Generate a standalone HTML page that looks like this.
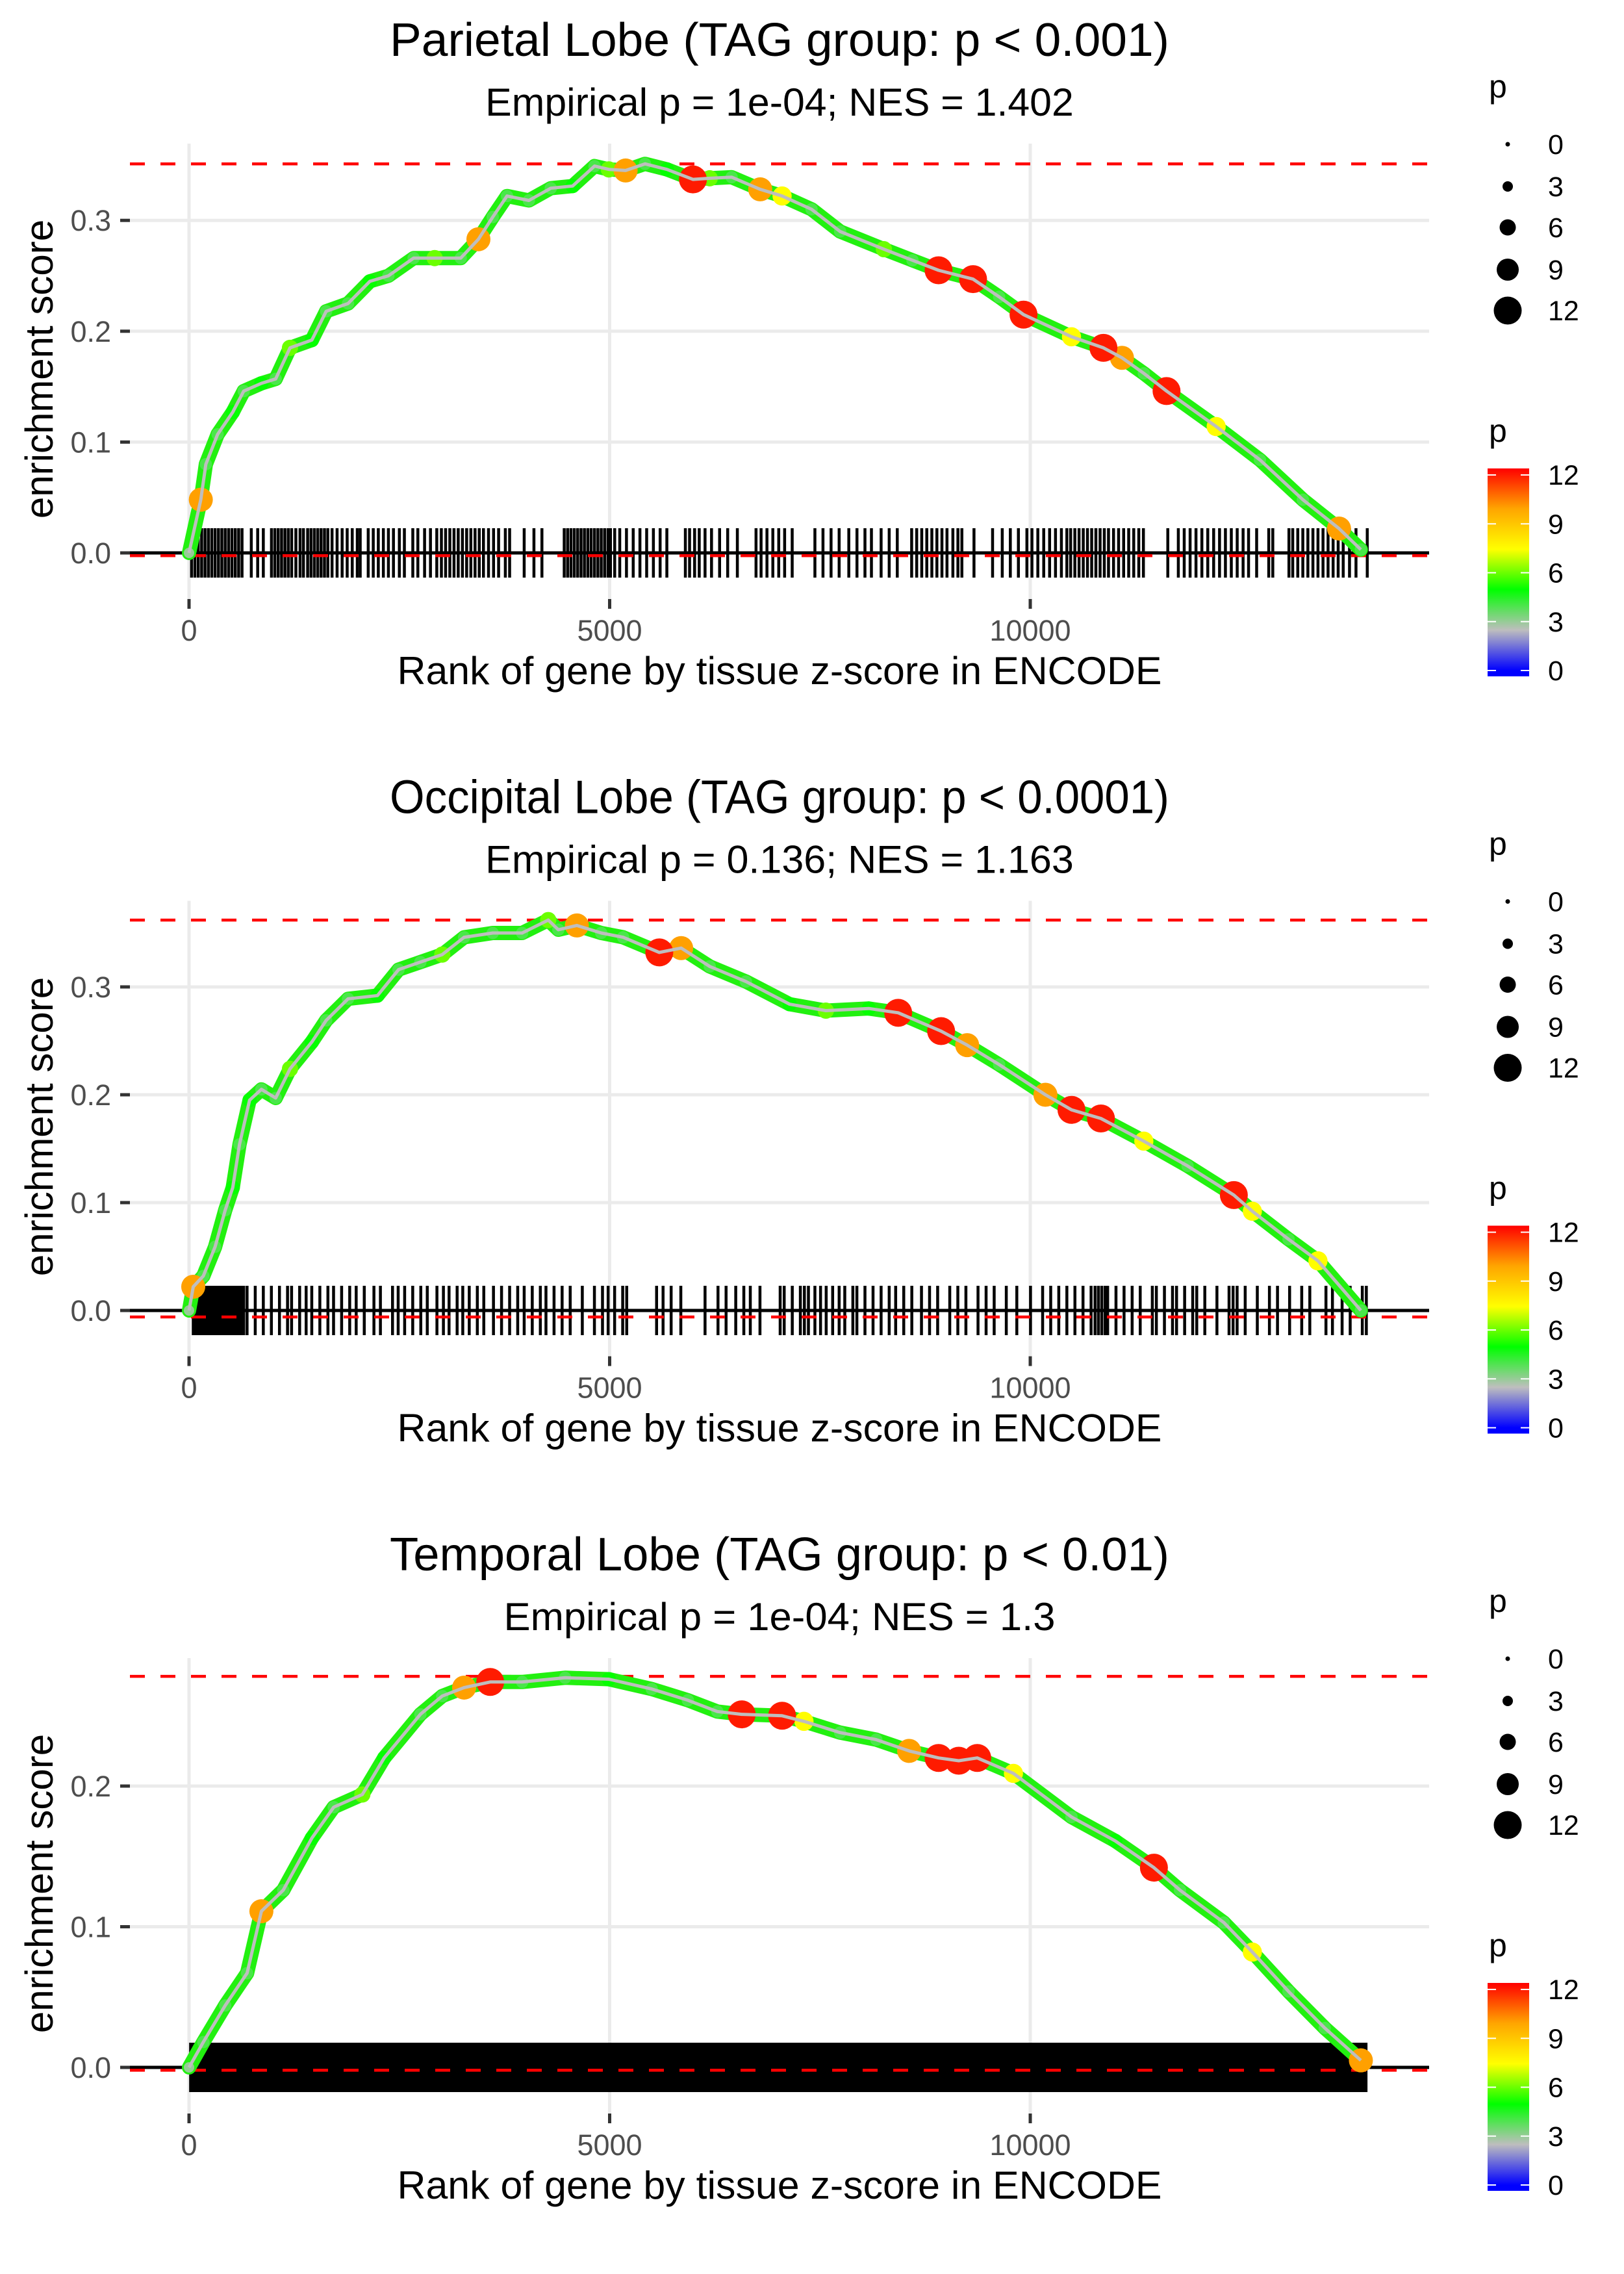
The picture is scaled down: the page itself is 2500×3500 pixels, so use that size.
<!DOCTYPE html>
<html><head><meta charset="utf-8"><title>Enrichment plots</title>
<style>
html,body{margin:0;padding:0;background:#fff;}
svg{display:block;font-family:"Liberation Sans",Arial,sans-serif;}
</style></head>
<body>
<svg id="chart" width="2500" height="3500" viewBox="0 0 2500 3500" xmlns="http://www.w3.org/2000/svg">
<defs>
<linearGradient id="pgrad" x1="0" y1="0" x2="0" y2="1">
<stop offset="0" stop-color="#FF0000"/>
<stop offset="0.194" stop-color="#FFA500"/>
<stop offset="0.389" stop-color="#FFFF00"/>
<stop offset="0.583" stop-color="#00FF00"/>
<stop offset="0.777" stop-color="#BEBEBE"/>
<stop offset="0.972" stop-color="#0000FF"/>
<stop offset="1" stop-color="#0000FF"/>
</linearGradient>
</defs>
</svg>
<script>
// ---------- data ----------
const xTicks = [0, 5000, 10000];
const sizeLegendValues = [0, 3, 6, 9, 12];
const colorLegendValues = [0, 3, 6, 9, 12];

const p1Titles = ["Parietal Lobe (TAG group: p < 0.001)", "Empirical p = 1e-04; NES = 1.402"];
const p1YTicks = [0.0, 0.1, 0.2, 0.3];
const p1Rank = [0,140,200,340,520,650,860,1030,1200,1460,1630,1890,2150,2370,2670,2920,3230,3440,3610,3780,4040,4300,4560,4820,4990,5190,5420,5680,5990,6190,6450,6790,7050,7400,7740,8260,8600,8910,9320,9630,9920,10490,10870,11090,11350,11620,12210,12730,13240,13670,13930];
const p1ES = [0,.048,.08,.107,.127,.146,.153,.157,.185,.192,.218,.225,.245,.25,.266,.266,.266,.283,.303,.322,.318,.329,.331,.349,.346,.345,.351,.346,.337,.338,.339,.328,.322,.31,.29,.274,.264,.255,.247,.231,.215,.195,.185,.176,.162,.146,.114,.084,.048,.022,.003];
const p1P = [3,10,4,4,5,4,5,4,6,5,4,4,5,4,4,6,4,10,4,4,4,4,5,4,6,10,4,5,12,6,4,10,7.5,4,4,6,4,12,12,4,12,7.5,12,10,4,12,7.5,4,4,10,4];
const p1Lines = [0.351, -0.0025];
const p1Rug = [30,70,110,150,190,230,270,310,350,390,430,470,510,550,590,630,740,816,883,980,1020,1060,1100,1140,1180,1220,1270,1320,1360,1410,1450,1490,1530,1570,1610,1650,1700,1760,1820,1880,1940,2000,2035,2130,2190,2250,2310,2370,2430,2500,2560,2660,2720,2800,2870,2945,3000,3050,3100,3150,3200,3250,3300,3350,3400,3450,3500,3560,3620,3680,3760,3811,3984,4100,4195,4460,4500,4540,4580,4620,4660,4700,4740,4780,4820,4860,4900,4940,4980,5010,5060,5120,5200,5280,5360,5440,5520,5600,5680,5900,5950,6010,6065,6134,6211,6307,6403,6518,6740,6800,6870,6940,7010,7080,7170,7440,7536,7632,7728,7843,7940,8035,8112,8227,8323,8419,8590,8650,8710,8770,8830,8890,8950,9010,9080,9140,9187,9331,9552,9667,9763,9859,9960,10020,10090,10160,10230,10300,10370,10435,10480,10530,10580,10630,10680,10730,10780,10830,10880,10930,10990,11050,11110,11170,11230,11290,11345,11635,11760,11830,11900,11970,12040,12110,12180,12250,12320,12390,12460,12530,12595,12691,12835,12883,13075,13120,13180,13240,13300,13360,13420,13480,13540,13600,13660,13720,13795,13872,14006];

const p2Titles = ["Occipital Lobe (TAG group: p < 0.0001)", "Empirical p = 0.136; NES = 1.163"];
const p2YTicks = [0.0, 0.1, 0.2, 0.3];
const p2Rank = [0,50,170,310,430,520,600,720,860,1030,1200,1460,1630,1890,2240,2490,2750,3010,3270,3610,3960,4270,4390,4610,4900,5160,5590,5850,6190,6620,7140,7570,8080,8430,8940,9250,9630,10180,10490,10840,11350,11870,12420,12640,13070,13420,13930];
const p2ES = [0,.022,.032,.059,.093,.114,.154,.195,.205,.197,.224,.249,.269,.289,.292,.316,.323,.33,.346,.35,.35,.362,.353,.357,.35,.346,.332,.336,.319,.305,.284,.278,.28,.276,.259,.246,.228,.2,.186,.178,.157,.134,.107,.092,.066,.046,0];
const p2P = [3,10,4,4,4,5,4,5,4,4,6,5,4,4,5,4,4,6,4,4,4,6,4,10,4,4,12,10,4,4,5,6,5,12,12,10,4,10,12,12,7.5,4,12,7.5,4,7.5,4];
const p2Lines = [0.362, -0.006];
const p2Rug = [50,80,110,140,170,200,230,260,290,320,350,380,410,440,470,500,530,560,590,620,650,690,787,883,979,1075,1171,1219,1315,1392,1459,1555,1651,1718,1814,1910,1987,2083,2198,2275,2419,2486,2563,2659,2755,2832,2947,3024,3091,3187,3254,3331,3427,3504,3619,3715,3811,3907,3984,4080,4176,4243,4339,4435,4531,4675,4819,4915,4982,5059,5155,5203,5558,5635,5731,5846,6134,6288,6384,6499,6595,6672,6787,7027,7075,7171,7267,7315,7363,7440,7507,7574,7651,7728,7795,7891,7939,8035,8131,8227,8323,8400,8496,8592,8707,8803,8899,9043,9139,9235,9379,9475,9571,9715,9840,10003,10147,10243,10339,10435,10531,10627,10723,10770,10810,10850,10890,10920,11019,11115,11211,11307,11451,11499,11595,11691,11739,11835,11931,11979,12075,12219,12363,12411,12459,12555,12699,12843,12939,13083,13227,13323,13515,13592,13707,13803,13947,13995];

const p3Titles = ["Temporal Lobe (TAG group: p < 0.01)", "Empirical p = 1e-04; NES = 1.3"];
const p3YTicks = [0.0, 0.1, 0.2];
const p3Rank = [0,170,430,690,860,1120,1460,1720,2060,2320,2750,3010,3270,3580,3960,4470,4990,5500,5930,6280,6570,7050,7310,7740,8170,8560,8910,9150,9370,9800,10490,11010,11470,11780,12300,12640,13070,13500,13930];
const p3ES = [0,.018,.044,.067,.111,.126,.163,.185,.194,.22,.251,.264,.27,.274,.274,.277,.276,.269,.261,.253,.251,.25,.246,.238,.233,.225,.22,.218,.22,.209,.178,.161,.142,.126,.103,.082,.054,.028,.005];
const p3P = [3,4,4,4,10,4,5,4,6,5,4,4,10,12,4,4,5,4,4,4,12,12,7.5,4,4,10,12,12,12,7.5,4,5,12,4,4,7.5,4,4,10];
const p3Lines = [0.278, -0.002];
const p3Rug = [40,110,180,250,320,390,460,530,600,670,740,810,880,950,1020,1090,1160,1230,1300,1370,1440,1510,1580,1650,1720,1790,1860,1930,2000,2070,2140,2210,2280,2350,2420,2490,2560,2630,2700,2770,2840,2910,2980,3050,3120,3190,3260,3330,3400,3470,3540,3610,3680,3750,3820,3890,3960,4030,4100,4170,4240,4310,4380,4450,4520,4590,4660,4730,4800,4870,4940,5010,5080,5150,5220,5290,5360,5430,5500,5570,5640,5710,5780,5850,5920,5990,6060,6130,6200,6270,6340,6410,6480,6550,6620,6690,6760,6830,6900,6970,7040,7110,7180,7250,7320,7390,7460,7530,7600,7670,7740,7810,7880,7950,8020,8090,8160,8230,8300,8370,8440,8510,8580,8650,8720,8790,8860,8930,9000,9070,9140,9210,9280,9350,9420,9490,9560,9630,9700,9770,9840,9910,9980,10050,10120,10190,10260,10330,10400,10470,10540,10610,10680,10750,10820,10890,10960,11030,11100,11170,11240,11310,11380,11450,11520,11590,11660,11730,11800,11870,11940,12010,12080,12150,12220,12290,12360,12430,12500,12570,12640,12710,12780,12850,12920,12990,13060,13130,13200,13270,13340,13410,13480,13550,13620,13690,13760,13830,13900,13970];

// ---------- layout / styling ----------
const NS = "http://www.w3.org/2000/svg";
const svg = document.getElementById('chart');
const panels = [
  {off: 0,      zero: 851,   k: 1706, titles: p1Titles, yt: p1YTicks, rank: p1Rank, es: p1ES, p: p1P, lines: p1Lines, rug: p1Rug, rugW: 4.5},
  {off: 1165.5, zero: 851.5, k: 1660, titles: p2Titles, yt: p2YTicks, rank: p2Rank, es: p2ES, p: p2P, lines: p2Lines, rug: p2Rug, rugW: 4.5},
  {off: 2331,   zero: 851,   k: 2165, titles: p3Titles, yt: p3YTicks, rank: p3Rank, es: p3ES, p: p3P, lines: p3Lines, rug: p3Rug, rugW: 10}
];
const PL = 200, PR = 2200, PT = 221, PB = 922;
const X = r => 291 + r * 0.1295;

const stopV = [0, 2.48, 4.96, 7.44, 9.92, 12.4];
const stopC = [[0,0,255],[190,190,190],[0,255,0],[255,255,0],[255,165,0],[255,0,0]];
function pColor(v){
  if (v <= stopV[0]) return 'rgb(0,0,255)';
  for (let i = 1; i < stopV.length; i++){
    if (v <= stopV[i]){
      const t = (v - stopV[i-1]) / (stopV[i] - stopV[i-1]);
      const a = stopC[i-1], b = stopC[i];
      return 'rgb(' + a.map((c,j)=>Math.round(c + (b[j]-c)*t)).join(',') + ')';
    }
  }
  return 'rgb(255,0,0)';
}
const pSize = v => 7 + 3 * v;

function mk(tag, attrs, parent){
  const e = document.createElementNS(NS, tag);
  for (const k in attrs) e.setAttribute(k, attrs[k]);
  (parent || svg).appendChild(e);
  return e;
}
function txt(str, attrs, parent){
  const e = mk('text', attrs, parent);
  e.textContent = str;
  return e;
}

panels.forEach((P, pi) => {
  const g = mk('g', {transform: 'translate(0,' + P.off + ')'});
  
  
  const Y = v => P.zero - v * P.k;

  const t1 = txt(P.titles[0], {x: 1200, y: 86, 'text-anchor': 'middle', 'font-size': 72, fill: '#000', textLength: 1200, lengthAdjust: 'spacingAndGlyphs'}, g);
  
  
  const t2 = txt(P.titles[1], {x: 1200, y: 178, 'text-anchor': 'middle', 'font-size': 60, fill: '#000', textLength: P.titles[1].length * 28.3, lengthAdjust: 'spacingAndGlyphs'}, g);
  
  

  P.yt.forEach(v => {
    const l = mk('line', {x1: PL, x2: PR, y1: Y(v), y2: Y(v), stroke: '#EBEBEB', 'stroke-width': 5}, g);
    
    
  });
  xTicks.forEach(v => {
    const l = mk('line', {x1: X(v), x2: X(v), y1: PT, y2: PB, stroke: '#EBEBEB', 'stroke-width': 5}, g);
    
    
  });

  P.yt.forEach(v => {
    const tk = mk('line', {x1: 185, x2: 200, y1: Y(v), y2: Y(v), stroke: '#333', 'stroke-width': 5}, g);
    
    
    const lb = txt(v.toFixed(1), {x: 171, y: Y(v) + 16, 'text-anchor': 'end', 'font-size': 45, fill: '#4D4D4D'}, g);
    
    
  });
  xTicks.forEach(v => {
    const tk = mk('line', {x1: X(v), x2: X(v), y1: PB, y2: PB + 15, stroke: '#333', 'stroke-width': 5}, g);
    
    
    const lb = txt(String(v), {x: X(v), y: 986, 'text-anchor': 'middle', 'font-size': 45, fill: '#4D4D4D'}, g);
    
    
  });
  const xt = txt('Rank of gene by tissue z-score in ENCODE', {x: 1200, y: 1053, 'text-anchor': 'middle', 'font-size': 60, fill: '#000', textLength: 1177, lengthAdjust: 'spacingAndGlyphs'}, g);
  
  
  const yt = txt('enrichment score', {x: 0, y: 0, 'text-anchor': 'middle', 'font-size': 60, fill: '#000', transform: 'translate(81,' + (P.zero - 283) + ') rotate(-90)'}, g);
  
  

  const rg = mk('g', {}, g);
  
  
  P.rug.forEach(r => {
    const l = mk('line', {x1: X(r), x2: X(r), y1: P.zero - 38, y2: P.zero + 38, stroke: '#000', 'stroke-width': P.rugW}, rg);
    
    
  });

  const zl = mk('line', {x1: PL, x2: PR, y1: Y(0), y2: Y(0), stroke: '#000', 'stroke-width': 5}, g);
  
  

  P.lines.forEach((v, i) => {
    const l = mk('line', {x1: PL, x2: PR, y1: Y(v), y2: Y(v), stroke: '#FF0000', 'stroke-width': 4.5, 'stroke-dasharray': '23 24'}, g);
    
    
  });

  const d = P.rank.map((r, i) => (i ? 'L' : 'M') + X(r).toFixed(1) + ' ' + Y(P.es[i]).toFixed(1)).join(' ');
  const band = mk('path', {d: d, fill: 'none', stroke: '#22F010', 'stroke-width': 22, 'stroke-linejoin': 'round', 'stroke-linecap': 'round'}, g);
  
  

  const idx = P.rank.map((_, i) => i).sort((a, b) => P.p[a] - P.p[b]);
  idx.forEach(i => {
    const c = mk('circle', {cx: X(P.rank[i]), cy: Y(P.es[i]), r: pSize(P.p[i]) / 2, fill: pColor(P.p[i])}, g);
    
    
  });

  const ln = mk('path', {d: d, fill: 'none', stroke: '#BEBEBE', 'stroke-width': 5, 'stroke-linejoin': 'round'}, g);
  
  

  const lt = txt('p', {x: 2292, y: 150, 'font-size': 50, fill: '#000'}, g);
  
  
  const sy = [222, 287, 350, 415, 478];
  sizeLegendValues.forEach((v, i) => {
    const c = mk('circle', {cx: 2321, cy: sy[i], r: pSize(v) / 2, fill: '#000'}, g);
    
    
    const l = txt(String(v), {x: 2383, y: sy[i] + 15, 'font-size': 43, fill: '#000'}, g);
    
    
  });

  const ct = txt('p', {x: 2292, y: 680, 'font-size': 50, fill: '#000'}, g);
  
  
  const bar = mk('rect', {x: 2290, y: 721, width: 64, height: 320, fill: 'url(#pgrad)'}, g);
  
  
  colorLegendValues.forEach(v => {
    const yy = 1032 - v * 25.08;
    const a = mk('line', {x1: 2290, x2: 2303, y1: yy, y2: yy, stroke: '#fff', 'stroke-width': 2}, g);
    
    
    const b = mk('line', {x1: 2341, x2: 2354, y1: yy, y2: yy, stroke: '#fff', 'stroke-width': 2}, g);
    
    
    const l = txt(String(v), {x: 2383, y: yy + 15, 'font-size': 43, fill: '#000'}, g);
    
    
  });
});
</script>
</body></html>
